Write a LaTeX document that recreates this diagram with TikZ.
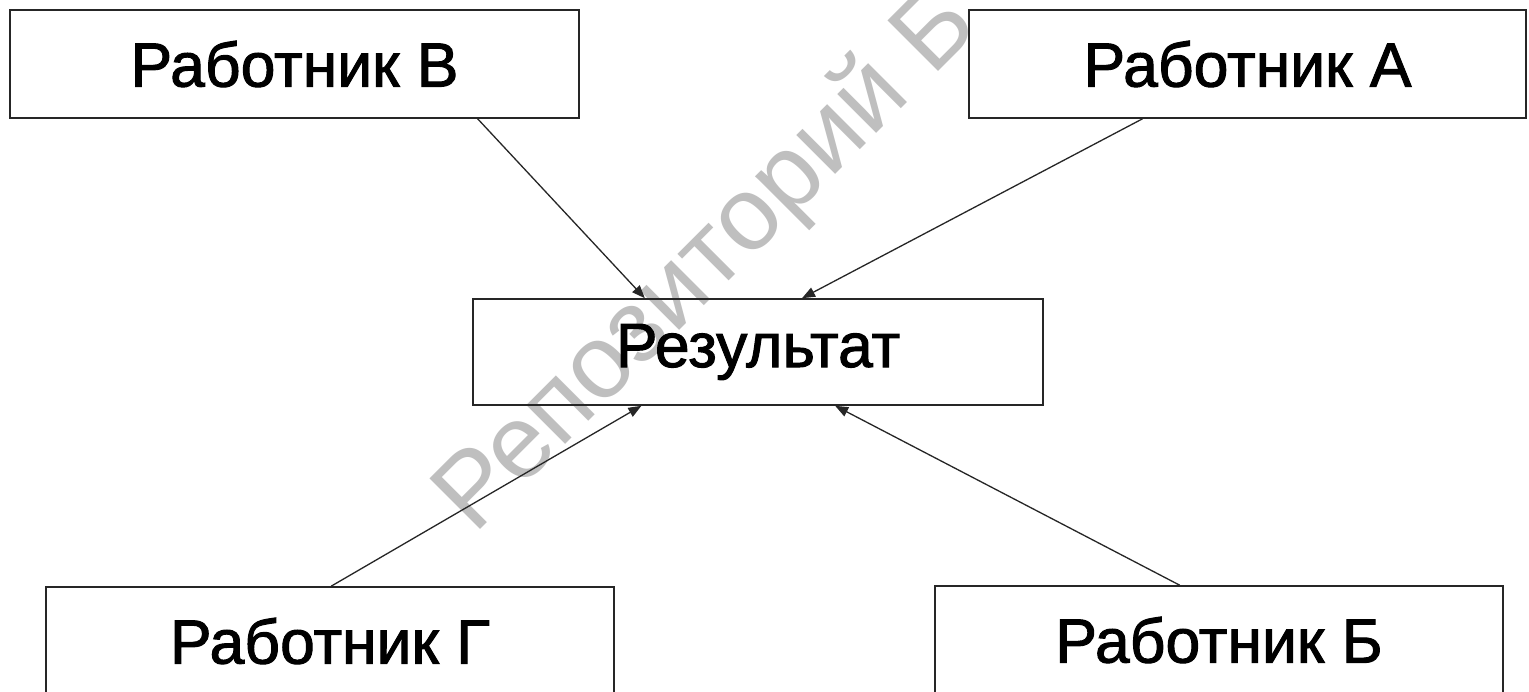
\documentclass[tikz,border=0pt]{standalone}
\usepackage{fontspec}
\setmainfont{Liberation Sans}
\newfontfamily\boxfont[FakeBold=1.6]{Liberation Sans}
\usetikzlibrary{arrows.meta,calc}
\begin{document}
\begin{tikzpicture}[x=1pt,y=-1pt,
  box/.style={draw=black!85, line width=1.6pt, inner sep=0pt, font=\boxfont\fontsize{62.5}{72}\selectfont},
  conn/.style={line width=1.3pt, draw=black!85, -{Triangle[length=13pt,width=10pt]}},
  wmark/.style={text=black!25, font=\fontsize{104}{120}\selectfont, inner sep=0pt, rotate=45, anchor=base west}]
\useasboundingbox (0,0) rectangle (1529,691);
\fill[white] (0,0) rectangle (1529,691);
\node[wmark] (wm) at (474,536) {Репозиторий Б};
\node[box, minimum width=569pt, minimum height=108pt] (B) at (294.5,64) {Работник В};
\node[box, minimum width=557pt, minimum height=108pt] (A) at (1247.5,64) {Работник А};
\node[box, minimum width=570pt, minimum height=106pt] (R) at (758,352) {Результат};
\node[box, minimum width=568pt, minimum height=108pt] (G) at (330,641) {Работник Г};
\node[box, minimum width=568pt, minimum height=108pt] (BB) at (1219,640) {Работник Б};
\draw[conn] ($(B.south west)!0.821!(B.south east)$) -- ($(R.north west)!0.302!(R.north east)$);
\draw[conn] ($(A.south west)!0.312!(A.south east)$) -- ($(R.north west)!0.577!(R.north east)$);
\draw[conn] ($(G.north west)!0.502!(G.north east)$) -- ($(R.south west)!0.296!(R.south east)$);
\draw[conn] ($(BB.north west)!0.431!(BB.north east)$) -- ($(R.south west)!0.635!(R.south east)$);
\end{tikzpicture}
\end{document}
